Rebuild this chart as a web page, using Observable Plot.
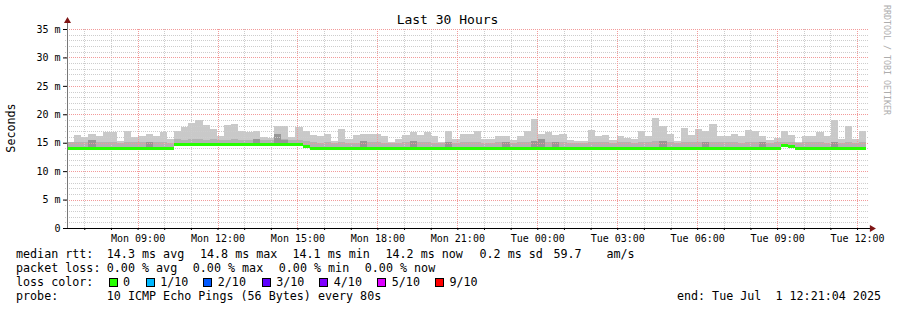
<!DOCTYPE html>
<html><head><meta charset="utf-8">
<script src="https://cdn.jsdelivr.net/npm/d3@7"></script>
<script src="https://cdn.jsdelivr.net/npm/@observablehq/plot@0.6"></script>
<style>
html,body{margin:0;padding:0;background:#fff;}
#wrap{position:relative;width:897px;height:310px;overflow:hidden;background:#fff;}
#wrap > svg{position:absolute;left:0;top:0;}
</style></head><body><div id="wrap"></div>
<script>
// ---- data (ms) ----
const smokeMax = [15.2,16.4,16.0,16.5,16.2,16.8,16.8,15.3,17.1,16.0,
 16.1,16.6,16.1,16.9,15.7,17.1,17.8,18.5,19.0,18.2,
 17.4,16.1,18.1,18.3,17.1,16.8,17.1,16.0,15.9,17.9,
 17.9,16.0,17.8,17.1,16.3,16.1,16.6,15.3,17.4,15.7,
 16.4,16.5,16.5,16.5,16.1,15.1,15.7,16.3,16.9,16.3,
 16.9,16.1,15.1,17.1,15.7,16.5,16.5,17.1,15.7,15.7,
 16.1,16.1,15.5,16.2,17.1,19.2,16.6,16.9,16.4,16.6,
 15.5,15.3,15.3,17.2,16.2,16.4,15.5,16.2,15.9,15.7,
 17.1,16.2,19.4,17.9,16.6,15.3,17.6,16.4,17.4,17.1,
 18.3,16.1,16.1,16.6,16.1,17.3,17.1,16.1,15.5,15.9,
 17.1,16.4,15.1,16.1,16.1,16.9,16.1,19.0,15.7,17.9,
 15.7,17.1];
const smokeMid = [15.1,15.2,15.1,15.2,15.1,15.2,15.1,15.0,15.1,15.1,
 15.1,15.2,15.1,15.1,15.0,15.6,15.5,15.6,15.6,15.5,
 15.6,15.5,15.5,15.6,15.5,15.5,15.6,15.5,15.4,15.7,
 15.6,15.4,15.5,15.3,15.1,15.0,15.1,15.0,15.1,15.0,
 15.0,15.2,15.1,15.1,15.0,15.0,15.0,15.1,15.2,15.1,
 15.1,15.0,15.0,15.1,15.0,15.1,15.1,15.2,15.0,15.0,
 15.1,15.1,15.0,15.1,15.1,15.3,15.2,15.1,15.1,15.1,
 15.0,15.0,15.0,15.2,15.1,15.1,15.0,15.1,15.1,15.0,
 15.2,15.1,15.3,15.2,15.1,15.0,15.2,15.1,15.1,15.1,
 15.2,15.1,15.1,15.1,15.0,15.2,15.1,15.1,15.0,15.1,
 15.2,15.1,15.0,15.1,15.1,15.1,15.0,15.2,15.0,15.1,
 15.0,15.1];
const smokeDark = [0,0,0,15.4,0,0,0,0,0,0,
 0,15.2,0,0,0,0,0,0,0,0,
 0,0,0,0,0,0,15.6,0,0,16.5,
 15.5,0,0,0,0,0,0,0,0,0,
 0,15.3,0,0,0,0,0,0,15.3,0,
 0,0,0,15.2,0,0,0,0,0,0,
 0,15.2,0,0,0,15.3,15.6,0,15.2,0,
 0,0,0,0,0,0,0,0,0,0,
 0,0,0,15.3,0,0,0,0,0,15.1,
 0,0,0,0,0,0,0,15.1,0,0,
 0,0,0,0,0,0,0,15.2,0,0,
 0,0];
const medianRtt = [14.15,14.15,14.15,14.15,14.15,14.15,14.15,14.15,14.15,14.15,
 14.15,14.15,14.15,14.15,14.15,14.8,14.8,14.8,14.8,14.8,
 14.8,14.8,14.8,14.8,14.8,14.8,14.8,14.8,14.8,14.8,
 14.8,14.8,14.8,14.5,14.15,14.15,14.15,14.15,14.15,14.15,
 14.15,14.15,14.15,14.15,14.15,14.15,14.15,14.15,14.15,14.15,
 14.15,14.15,14.15,14.15,14.15,14.15,14.15,14.15,14.15,14.15,
 14.15,14.15,14.15,14.15,14.15,14.15,14.15,14.15,14.15,14.15,
 14.15,14.15,14.15,14.15,14.15,14.15,14.15,14.15,14.15,14.15,
 14.15,14.15,14.15,14.15,14.15,14.15,14.15,14.15,14.15,14.15,
 14.15,14.15,14.15,14.15,14.15,14.15,14.15,14.15,14.15,14.15,
 14.6,14.5,14.15,14.15,14.15,14.15,14.15,14.15,14.15,14.15,
 14.15,14.15];
const tickLabels = ["Mon 09:00","Mon 12:00","Mon 15:00","Mon 18:00","Mon 21:00","Tue 00:00","Tue 03:00","Tue 06:00","Tue 09:00","Tue 12:00"];
const yTicks = [0,5,10,15,20,25,30,35];
const rttStats = ["median rtt:","14.3 ms avg","14.8 ms max","14.1 ms min","14.2 ms now","0.2 ms sd","59.7","am/s"];
const lossStats = ["packet loss:","0.00 % avg","0.00 % max","0.00 % min","0.00 % now"];
const lossLabels = ["0","1/10","2/10","3/10","4/10","5/10","9/10"];
const lossColors = ["#26ff00","#00b8ff","#0059ff","#5e00ff","#7e00ff","#dd00ff","#ff0000"];
const probeStats = ["probe:","10 ICMP Echo Pings (56 Bytes) every 80s"];
const endText = "end: Tue Jul  1 12:21:04 2025";
const titleText = "Last 30 Hours";

// ---- build ----
const start = new Date(2025, 5, 30, 6, 21, 4);
const end = new Date(2025, 6, 1, 12, 21, 4);
const N = smokeMax.length;
const step = (end - start) / N;
const cols = smokeMax.map((m, i) => ({
  x1: new Date(+start + i * step), x2: new Date(+start + (i + 1) * step),
  max: m, mid: smokeMid[i], dark: smokeDark[i], med: medianRtt[i]
}));
const tickDates = tickLabels.map((_, i) => new Date(2025, 5, 30, 9 + 3 * i));
const labelMap = new Map(tickDates.map((d, i) => [+d, tickLabels[i]]));
const hours = d3.timeHour.range(start, end);
const minorX = hours.filter(h => !labelMap.has(+h));
const minorY = d3.range(1, 36).filter(v => v % 5 !== 0);
const majorY = yTicks.filter(v => v > 0);
const crisp = {shapeRendering: "crispEdges"};

const plot = Plot.plot({
  width: 897, height: 310,
  marginLeft: 67, marginRight: 30.6, marginTop: 29, marginBottom: 82,
  x: {type: "time", domain: [start, end]},
  y: {domain: [0, 35]},
  style: {fontFamily: "'DejaVu Sans Mono', monospace", fontSize: "10px", color: "#000", background: "transparent", overflow: "visible"},
  marks: [
    Plot.rect(cols, {x1: "x1", x2: "x2", y1: d => d.med - 0.3, y2: "max", fill: "#c9c9c9", ...crisp}),
    Plot.rect(cols, {x1: "x1", x2: "x2", y1: d => d.med - 0.3, y2: "mid", fill: "#b3b3b3", ...crisp}),
    Plot.rect(cols.filter(d => d.dark > 0), {x1: "x1", x2: "x2", y1: d => d.med - 0.3, y2: "dark", fill: "#979797", ...crisp}),
    Plot.ruleY(minorY, {stroke: "#cdcdcd", strokeDasharray: "1,1", insetLeft: -2, insetRight: -2, ...crisp}),
    Plot.ruleX(minorX, {stroke: "#cdcdcd", strokeDasharray: "1,1", ...crisp}),
    Plot.ruleY(majorY, {stroke: "#f29a9a", strokeDasharray: "1,1", insetLeft: -2, insetRight: -2, ...crisp}),
    Plot.ruleX(tickDates, {stroke: "#f29a9a", strokeDasharray: "1,1", ...crisp}),
    Plot.ruleY(cols, {x1: "x1", x2: "x2", y: "med", stroke: "#26ff00", strokeWidth: 3, ...crisp}),
    Plot.ruleX([start], {y1: 0, y2: 36.3, stroke: "#777", ...crisp}),
    Plot.ruleY([0], {stroke: "#000", insetLeft: -4, insetRight: -5, ...crisp}),
    Plot.dot([start], {x: d => d, y: () => 36.5, symbol: "triangle", r: 2.6, fill: "#7f1515", stroke: null}),
    Plot.dot([end], {x: d => d, y: () => 0, dx: 5, symbol: "triangle", rotate: 90, r: 2.6, fill: "#7f1515", stroke: null}),
    Plot.axisY({ticks: yTicks, tickSize: 4, tickPadding: 3, tickFormat: d => d === 0 ? "0" : d + " m", label: null}),
    Plot.axisX({ticks: hours, tickSize: 2, tickFormat: () => "", label: null}),
    Plot.axisX({ticks: tickDates, tickSize: 0, tickPadding: 6, tickFormat: d => labelMap.get(+d), label: null})
  ]
});
const wrap = document.getElementById("wrap");
wrap.appendChild(plot);

// ---- texts / legend ----
const nb = s => s.replace(/ /g, "\u00a0");
const ov = d3.select(wrap).append("svg").attr("width", 897).attr("height", 310)
  .style("font-family", "'DejaVu Sans Mono', monospace").attr("fill", "#000");
ov.append("text").attr("x", 447.5).attr("y", 24).attr("text-anchor", "middle").attr("font-size", 13).text(titleText);
ov.append("text").attr("transform", "translate(15,128) rotate(-90)").attr("text-anchor", "middle").attr("font-size", 11.7).text("Seconds");
ov.append("text").attr("transform", "translate(884,5) rotate(90)").attr("font-size", 8.3).attr("fill", "#adadad").text("RRDTOOL / TOBI OETIKER");
const fs = 11.7;
const addText = (x, y, s, anchor) => ov.append("text").attr("x", x).attr("y", y).attr("font-size", fs)
  .attr("text-anchor", anchor || "start").text(nb(s));
const rttX = [16, 106.8, 200, 292.5, 385.5, 479.5, 553.5, 606.5];
rttStats.forEach((s, i) => addText(rttX[i], 258, s));
const lossX = [16, 106.8, 192.8, 278.8, 364.8];
lossStats.forEach((s, i) => addText(lossX[i], 272, s));
addText(16, 286, "loss color:");
const sqX = [108.5, 145.7, 203.3, 261.7, 319.3, 377.3, 435];
lossLabels.forEach((lab, i) => {
  ov.append("rect").attr("x", Math.round(sqX[i]) + 0.5).attr("y", 278.5).attr("width", 8).attr("height", 8)
    .attr("fill", lossColors[i]).attr("stroke", "#000").attr("stroke-width", 1);
  addText(sqX[i] + 14.5, 286, lab);
});
const probeX = [16, 106.8];
probeStats.forEach((s, i) => addText(probeX[i], 300, s));
addText(881, 300, endText, "end");
</script></body></html>
